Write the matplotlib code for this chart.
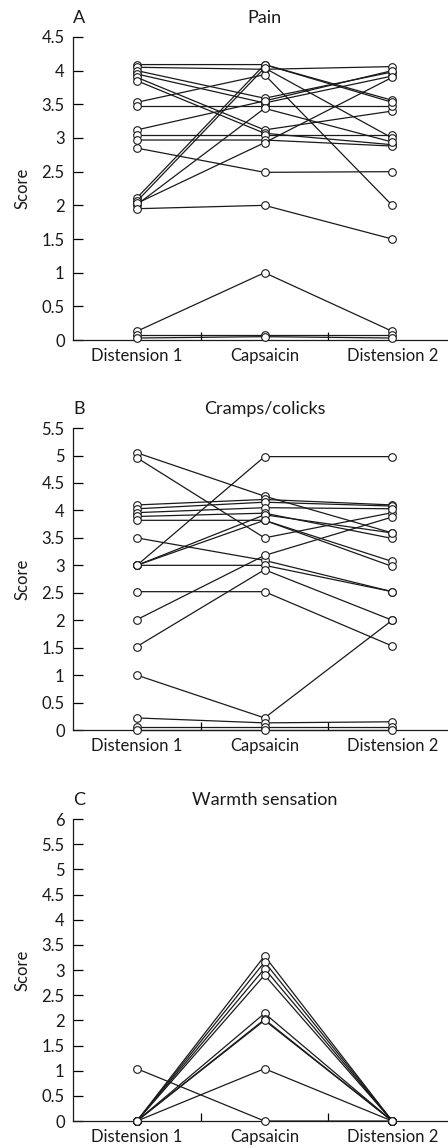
import matplotlib
matplotlib.use("Agg")
import matplotlib.pyplot as plt
from matplotlib.ticker import FixedLocator

plt.rcParams['font.family'] = ['Lato', 'DejaVu Sans']

conditions = ["Distension 1", "Capsaicin", "Distension 2"]

# Pain scores per subject: (distension 1, capsaicin, distension 2)
pain = [
    [4.09, 4.09, 3.56],
    [4.05, 4.02, 4.06],
    [4.00, 3.59, 3.98],
    [3.95, 3.52, 3.92],
    [3.90, 3.12, 3.40],
    [3.85, 3.07, 2.90],
    [3.53, 3.94, 2.00],
    [3.48, 3.48, 3.48],
    [3.12, 3.55, 4.00],
    [3.04, 3.04, 3.04],
    [2.97, 2.97, 2.88],
    [2.85, 2.49, 2.50],
    [2.11, 4.09, 3.53],
    [2.06, 4.04, 3.00],
    [2.01, 3.44, 2.94],
    [2.03, 2.93, 3.90],
    [1.95, 2.00, 1.50],
    [0.13, 1.00, 0.13],
    [0.08, 0.08, 0.08],
    [0.03, 0.05, 0.03],
]

# Cramps/colicks scores per subject
cramps = [
    [5.05, 4.26, 3.59],
    [4.96, 3.50, 3.96],
    [4.10, 4.20, 4.10],
    [4.03, 4.15, 4.08],
    [3.96, 4.05, 4.03],
    [3.89, 3.95, 3.49],
    [3.82, 3.82, 3.07],
    [3.50, 3.09, 2.52],
    [3.00, 4.98, 4.98],
    [3.00, 3.92, 3.59],
    [3.00, 3.82, 2.98],
    [3.00, 3.00, 2.52],
    [2.52, 2.52, 1.53],
    [2.01, 3.18, 3.88],
    [1.52, 2.92, 2.00],
    [1.00, 0.22, 2.00],
    [0.22, 0.13, 0.15],
    [0.06, 0.06, 0.06],
    [0.00, 0.00, 0.00],
]

# Warmth sensation scores per subject
warmth = [
    [0.00, 3.28, 0.00],
    [0.00, 3.16, 0.00],
    [0.00, 3.03, 0.00],
    [0.00, 2.90, 0.00],
    [0.00, 2.14, 0.00],
    [0.00, 2.02, 0.00],
    [0.00, 2.00, 0.00],
    [0.00, 1.04, 0.00],
    [1.04, 0.00, 0.00],
]

panels = [
    ("A", "Pain", pain, 4.5, [0.0, 0.5, 1.0, 1.5, 2.0, 2.5, 3.0, 3.5, 4.0, 4.5]),
    ("B", "Cramps/colicks", cramps, 5.5, [0.0, 0.5, 1.0, 1.5, 2.0, 2.5, 3.0, 3.5, 4.0, 4.5, 5.0, 5.5]),
    ("C", "Warmth sensation", warmth, 6.0, [0.0, 0.5, 1.0, 1.5, 2.0, 2.5, 3.0, 3.5, 4.0, 4.5, 5.0, 5.5, 6.0]),
]

def fmt(v):
    return "%g" % v

fig = plt.figure(figsize=(4.48, 11.48), dpi=100)
# axes boxes in figure fraction (left, bottom, width, height)
boxes = [
    [0.163, 0.7038, 0.855, 0.264],
    [0.163, 0.3641, 0.855, 0.263],
    [0.163, 0.0235, 0.855, 0.263],
]

x = [1, 2, 3]
for (letter, title, data, ymax, yticks), box in zip(panels, boxes):
    ax = fig.add_axes(box)
    for row in data:
        ax.plot(x, row, color="#1a1a1a", lw=0.9, marker="o", ms=5.5,
                mfc="white", mec="#1a1a1a", mew=0.8, clip_on=False, zorder=3)
    ax.set_xlim(0.5, 3.5)
    ax.set_ylim(0, ymax)
    for s in ["top", "right"]:
        ax.spines[s].set_visible(False)
    for s in ["left", "bottom"]:
        ax.spines[s].set_linewidth(0.9)
        ax.spines[s].set_color("#1a1a1a")
    ax.set_xticks(x)
    ax.set_xticklabels(conditions, fontsize=12, color="#1a1a1a")
    ax.xaxis.set_minor_locator(FixedLocator([1.5, 2.5]))
    ax.tick_params(axis="x", which="major", length=0, pad=6)
    ax.tick_params(axis="x", which="minor", direction="in", length=6, width=0.9)
    ax.set_yticks(yticks)
    ax.set_yticklabels([fmt(t) for t in yticks], fontsize=12, color="#1a1a1a")
    ax.tick_params(axis="y", direction="in", length=7, width=0.9, pad=6)
    ax.set_ylabel("Score", fontsize=12, color="#1a1a1a", labelpad=8)
    ax.set_title(title, fontsize=13, color="#1a1a1a", pad=10)
    ax.text(0.0, 1.0, letter, transform=ax.transAxes, fontsize=13,
            color="#1a1a1a", ha="left", va="bottom",
            bbox=None).set_position((0.0, 1.036))

fig.savefig("out.png", dpi=100)
